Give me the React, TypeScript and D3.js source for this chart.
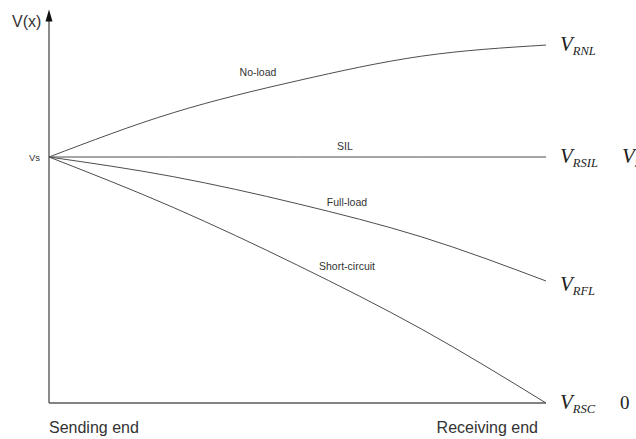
import React from "react";
import * as d3 from "d3";

const positions = [0, 0.25, 0.5, 0.75, 1];
const noLoad = [1, 1.18, 1.31, 1.41, 1.455];
const sil = [1, 1, 1, 1, 1];
const fullLoad = [1, 0.92, 0.81, 0.675, 0.496];
const shortCircuit = [1, 0.795, 0.56, 0.3, 0];
const curveNames = ["No-load", "SIL", "Full-load", "Short-circuit"];
const endLabels = [
  { main: "V", sub: "RNL" },
  { main: "V", sub: "RSIL" },
  { main: "V", sub: "RFL" },
  { main: "V", sub: "RSC" },
];
const extraLabels = [
  { main: "V", sub: "S", value: 1 },
  { main: "0", sub: "", value: 0 },
];
const xAxisLabels = ["Sending end", "Receiving end"];
const yAxisLabel = "V(x)";
const originLabel = "Vs";

const W = 636;
const H = 439;

export default function App() {
  const x = d3.scaleLinear().domain([0, 1]).range([49, 546]);
  const y = d3.scaleLinear().domain([0, 1]).range([403, 157]);
  const series = [noLoad, sil, fullLoad, shortCircuit];
  const line = d3
    .line<number>()
    .x((_, i) => x(positions[i]))
    .y((d) => y(d))
    .curve(d3.curveMonotoneX);

  // label anchor (x in px, value-level for baseline)
  const labelX = [258, 345, 347, 347];
  const labelV = [1.329, 1.03, 0.801, 0.54];

  const lineColor = "#4d4d4d";
  const axisColor = "#5a5a5a";
  const textColor = "#333";

  const yTop = y(1.6);
  return (
    <svg
      width={W}
      height={H}
      style={{ position: "absolute", left: 0, top: 0, background: "#fff" }}
      fontFamily="Arial, 'Liberation Sans', sans-serif"
    >
      {/* axes */}
      <line x1={x(0)} x2={x(0)} y1={yTop + 10} y2={y(0)} stroke={axisColor} strokeWidth={1.4} />
      <line x1={x(0)} x2={x(1)} y1={y(0)} y2={y(0)} stroke={axisColor} strokeWidth={1.4} />
      <path
        d={`M${x(0)},${yTop} L${x(0) - 3.5},${yTop + 12} L${x(0) + 3.5},${yTop + 12} Z`}
        fill="#111"
      />
      <text x={12} y={27} fontSize={16} fill={textColor}>
        {yAxisLabel}
      </text>
      <text x={40} y={161} fontSize={9.5} fill={textColor} textAnchor="end">
        {originLabel}
      </text>

      {series.map((s, i) => (
        <path key={i} d={line(s) || ""} fill="none" stroke={lineColor} strokeWidth={1} />
      ))}

      {curveNames.map((n, i) => (
        <text
          key={n}
          x={labelX[i]}
          y={y(labelV[i])}
          fontSize={10.5}
          fill={textColor}
          textAnchor="middle"
        >
          {n}
        </text>
      ))}

      {endLabels.map((l, i) => {
        const v = series[i][series[i].length - 1];
        return (
          <text
            key={l.sub}
            x={x(1) + 14}
            y={y(v) + 6 + (i === 2 ? 4 : 0)}
            fontFamily="'Liberation Serif', 'Times New Roman', serif"
            fontStyle="italic"
            fontSize={21}
            fill="#222"
          >
            {l.main}
            <tspan fontSize={12.5} dy={4}>
              {l.sub}
            </tspan>
          </text>
        );
      })}

      {extraLabels.map((l) => (
        <text
          key={l.main + l.sub}
          x={l.main === "0" ? 620 : 622}
          y={y(l.value) + 6}
          fontFamily="'Liberation Serif', 'Times New Roman', serif"
          fontStyle={l.main === "0" ? "normal" : "italic"}
          fontSize={l.main === "0" ? 19 : 21}
          fill="#222"
        >
          {l.main}
          {l.sub && (
            <tspan fontSize={12.5} dy={4}>
              {l.sub}
            </tspan>
          )}
        </text>
      ))}

      <text x={x(0)} y={433} fontSize={16} fill={textColor}>
        {xAxisLabels[0]}
      </text>
      <text x={x(1) - 8} y={433} fontSize={16} fill={textColor} textAnchor="end">
        {xAxisLabels[1]}
      </text>
    </svg>
  );
}
